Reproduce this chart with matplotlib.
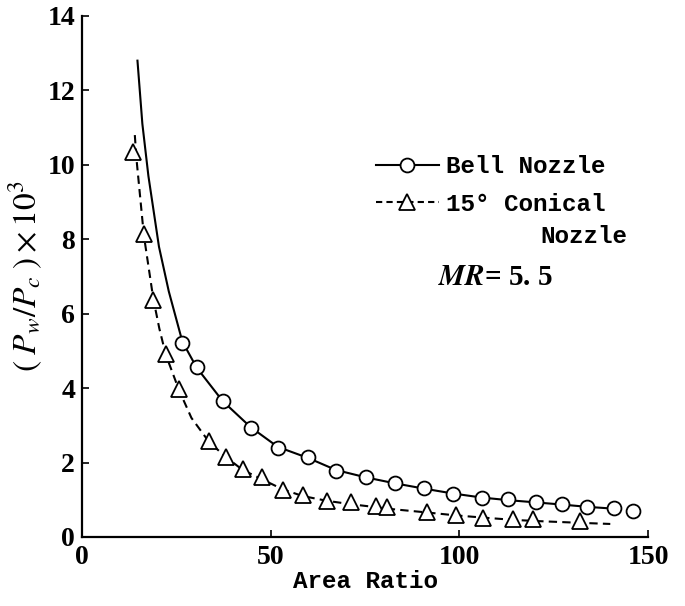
import matplotlib
matplotlib.use("Agg")
import matplotlib.pyplot as plt

# --- data ---
bell_x = [26.6, 30.4, 37.3, 44.7, 51.9, 60.0, 67.3, 75.3, 83.0, 90.6,
          98.2, 105.9, 112.9, 120.2, 127.3, 133.9, 141.0, 146.1]
bell_y = [5.22, 4.57, 3.65, 2.93, 2.40, 2.15, 1.77, 1.60, 1.45, 1.31,
          1.16, 1.04, 1.01, 0.93, 0.88, 0.80, 0.77, 0.69]

cone_x = [13.4, 16.4, 18.9, 22.2, 25.7, 33.7, 38.1, 42.6, 47.7, 53.2,
          58.5, 65.0, 71.3, 77.9, 80.9, 91.3, 99.1, 106.4, 114.3, 119.6, 132.0]
cone_y = [10.35, 8.14, 6.38, 4.92, 3.98, 2.57, 2.16, 1.82, 1.60, 1.27,
          1.12, 0.97, 0.95, 0.84, 0.80, 0.67, 0.59, 0.51, 0.47, 0.48, 0.42]

# fitted curves drawn through the points
bell_curve_x = [14.7, 16.0, 17.6, 20.4, 23.0, 26.6, 30.4, 37.3, 44.7, 51.9, 60.0,
                67.3, 75.3, 83.0, 90.6, 98.2, 105.9, 112.9, 120.2, 127.3, 133.9, 141.0]
bell_curve_y = [12.8, 11.1, 9.7, 7.8, 6.6, 5.25, 4.55, 3.65, 2.95, 2.42, 2.12,
                1.80, 1.60, 1.44, 1.30, 1.17, 1.06, 0.99, 0.93, 0.87, 0.81, 0.76]

cone_curve_x = [14.0, 14.4, 16.4, 18.9, 20.5, 22.2, 25.7, 29.0, 33.7, 38.1, 42.6,
                47.7, 53.2, 58.5, 65.0, 71.3, 78.0, 81.0, 91.3, 99.1, 106.4,
                114.3, 120.0, 132.0, 140.0]
cone_curve_y = [10.8, 10.2, 8.1, 6.4, 5.6, 4.9, 3.95, 3.2, 2.55, 2.15, 1.80,
                1.55, 1.28, 1.10, 0.97, 0.88, 0.80, 0.76, 0.66, 0.58, 0.52,
                0.46, 0.43, 0.38, 0.35]

x_ticks = [0, 50, 100, 150]
y_ticks = [0, 2, 4, 6, 8, 10, 12, 14]

plt.rcParams["mathtext.fontset"] = "stix"

SERIF = "Liberation Serif"
MONO = "Liberation Mono"

fig = plt.figure(figsize=(6.85, 6.06), dpi=100)
ax = fig.add_axes([0.1197, 0.1139, 0.8263, 0.8597])

ax.plot(bell_curve_x, bell_curve_y, color="black", lw=1.5)
ax.plot(cone_curve_x, cone_curve_y, color="black", lw=1.5, dashes=(4, 2.5))
ax.plot(bell_x, bell_y, "o", ms=10, mfc="white", mec="black", mew=1.3)
ax.plot(cone_x, cone_y, "^", ms=12, mfc="white", mec="black", mew=1.3)

# legend handles
h_bell, = ax.plot([], [], "-o", color="black", lw=1.5, ms=10, mfc="white", mec="black", mew=1.3)
h_cone, = ax.plot([], [], "--^", color="black", lw=1.5, dashes=(3, 2), ms=12,
                  mfc="white", mec="black", mew=1.3)
leg = ax.legend([h_bell, h_cone], ["Bell Nozzle", "15° Conical"],
                loc="upper left", bbox_to_anchor=(0.519, 0.733), frameon=False,
                handlelength=2.6, handletextpad=0.28, labelspacing=0.6,
                borderpad=0, borderaxespad=0, numpoints=1,
                prop={"family": MONO, "weight": "bold", "size": 17.5})
ax.text(0.809, 0.576, "Nozzle", transform=ax.transAxes, ha="left", va="center",
        family=MONO, weight="bold", fontsize=17.5)
ax.text(0.629, 0.499, r"$\mathbfit{MR}$= 5. 5", transform=ax.transAxes, ha="left",
        va="center", family=SERIF, weight="bold", fontsize=21)

ax.set_xlim(0, 150)
ax.set_ylim(0, 14)
ax.set_xticks(x_ticks)
ax.set_yticks(y_ticks)
for s in ["top", "right"]:
    ax.spines[s].set_visible(False)
for s in ["left", "bottom"]:
    ax.spines[s].set_linewidth(1.6)
ax.tick_params(direction="in", length=5, width=1.2)
ax.tick_params(axis="x", pad=6)
ax.tick_params(axis="y", pad=5)
for lab in ax.get_xticklabels() + ax.get_yticklabels():
    lab.set_fontfamily(SERIF)
    lab.set_fontweight("bold")
    lab.set_fontsize(20)

ax.set_xlabel("Area Ratio", family=MONO, weight="bold", fontsize=17.5, labelpad=0)
ax.set_ylabel(r"$(\;P_w/P_c\;)\times10^3$", fontsize=24, labelpad=2)

fig.savefig("out.png", dpi=100)
